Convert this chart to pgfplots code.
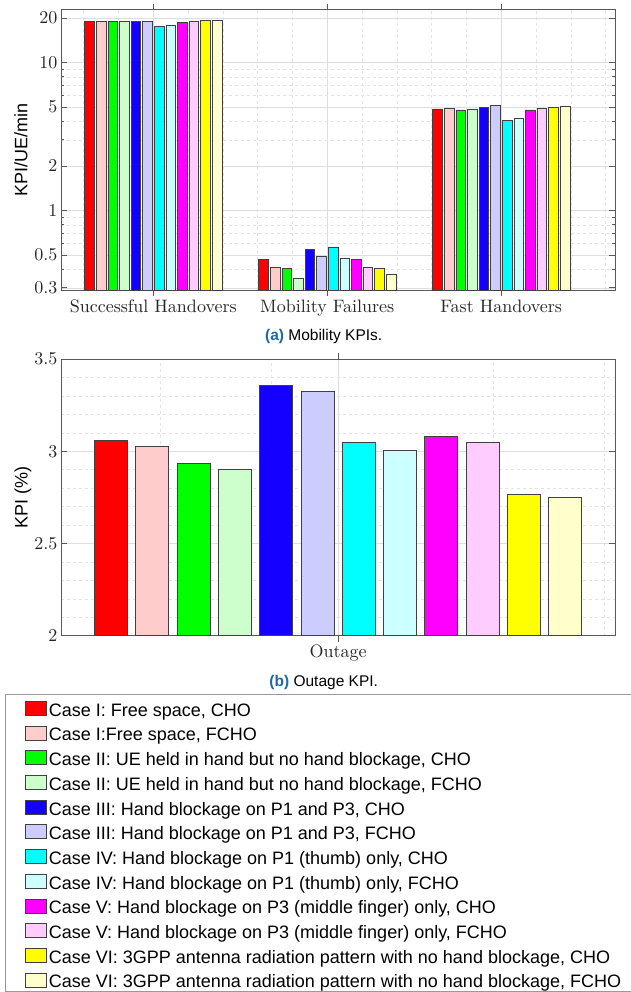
\documentclass[border=0pt]{standalone}
\usepackage{fontspec}
\usepackage{pgfplots}
\usepackage{pgfplotstable}
\pgfplotsset{compat=1.18}
\newfontfamily\lsans{Liberation Sans}
\newfontfamily\lmten{lmroman10-regular}[Extension=.otf]
\definecolor{c1}{rgb}{1,0,0}
\definecolor{c2}{rgb}{1,0.8,0.8}
\definecolor{c3}{rgb}{0,1,0}
\definecolor{c4}{rgb}{0.8,1,0.8}
\definecolor{c5}{RGB}{20,0,255}
\definecolor{c6}{rgb}{0.8,0.8,1}
\definecolor{c7}{rgb}{0,1,1}
\definecolor{c8}{rgb}{0.8,1,1}
\definecolor{c9}{rgb}{1,0,1}
\definecolor{c10}{rgb}{1,0.8,1}
\definecolor{c11}{rgb}{1,1,0}
\definecolor{c12}{rgb}{1,1,0.8}
\definecolor{capblue}{RGB}{30,105,165}

\pgfplotstableread{
x  s1    s2    s3    s4    s5    s6    s7    s8    s9    s10   s11   s12
1  18.9  19.06 18.9  19.0  18.9  19.0  17.56 17.7  18.7  18.9  19.2  19.3
2  0.468 0.415 0.404 0.348 0.543 0.488 0.567 0.473 0.468 0.415 0.409 0.372
3  4.85  4.93  4.78  4.83  4.98  5.11  4.04  4.20  4.78  4.87  4.95  5.03
}\topdata

\pgfplotsset{
  mystyle/.style={
    scale only axis,
    axis line style={black!65, line width=0.9pt},
    tick style={black!65, line width=0.8pt},
    tick align=inside,
    major tick length=6pt,
    minor tick length=3pt,
    grid=both,
    major grid style={black!13, line width=0.5pt},
    minor grid style={black!11, dashed, line width=0.5pt},
    minor x tick style={draw=none},
    /pgf/number format/assume math mode=true,
    xticklabel style={font=\lmten\fontsize{18}{21}\selectfont, text=black!85},
    yticklabel style={font=\lmten\fontsize{18}{21}\selectfont, text=black!85},
  },
  mybar/.style={fill=#1, draw=black!75, line width=0.6pt,
    legend image code/.code={\draw[##1, line width=0.6pt] (0pt,-4pt) rectangle (21pt,10pt);}},
}

\begin{document}
\begin{tikzpicture}
\useasboundingbox (0,0) rectangle (631pt,-992pt);

% ---------- top: mobility KPIs ----------
\begin{axis}[mystyle,
  at={(61pt,-9.5pt)}, anchor=north west,
  width=554pt, height=280.5pt,
  ymode=log, log origin=infty,
  ymin=0.29, ymax=22.8,
  xmin=0.47, xmax=3.654,
  ytick={0.3,0.5,1,2,5,10,20},
  yticklabels={0.3,0.5,1,2,5,10,20},
  minor ytick={0.4,0.6,0.7,0.8,0.9,3,4,6,7,8,9},
  xtick={1,2,3},
  xticklabels={Successful Handovers, Mobility Failures, Fast Handovers},
  minor xtick={0.6,0.8,1.2,1.4,1.6,1.8,2.2,2.4,2.6,2.8,3.2,3.4,3.6},
  ybar=2pt, bar width=9.6pt,
  ylabel={KPI/UE/min},
  ylabel style={font=\lsans\fontsize{18}{21}\selectfont, at={(axis description cs:-0.0722,0.5)}, anchor=center},
]
\addplot[mybar=c1]  table[x=x,y=s1]  {\topdata};
\addplot[mybar=c2]  table[x=x,y=s2]  {\topdata};
\addplot[mybar=c3]  table[x=x,y=s3]  {\topdata};
\addplot[mybar=c4]  table[x=x,y=s4]  {\topdata};
\addplot[mybar=c5]  table[x=x,y=s5]  {\topdata};
\addplot[mybar=c6]  table[x=x,y=s6]  {\topdata};
\addplot[mybar=c7]  table[x=x,y=s7]  {\topdata};
\addplot[mybar=c8]  table[x=x,y=s8]  {\topdata};
\addplot[mybar=c9]  table[x=x,y=s9]  {\topdata};
\addplot[mybar=c10] table[x=x,y=s10] {\topdata};
\addplot[mybar=c11] table[x=x,y=s11] {\topdata};
\addplot[mybar=c12] table[x=x,y=s12] {\topdata};
\end{axis}

\node[font=\lsans\fontsize{15.5}{18}\selectfont] at (323.7pt,-336pt) {\textcolor{capblue}{\textbf{(a)}} Mobility KPIs.};

% ---------- bottom: outage KPI ----------
\begin{axis}[mystyle,
  at={(61pt,-359pt)}, anchor=north west,
  width=554pt, height=276.7pt,
  ymin=2, ymax=3.5,
  ytick={2,2.5,3,3.5},
  minor ytick={2.1,2.2,2.3,2.4,2.6,2.7,2.8,2.9,3.1,3.2,3.3,3.4},
  minor y tick style={draw=none},
  xmin=0, xmax=2,
  xtick={1}, xticklabels={Outage},
  minor xtick={0.36,0.76,1.56,1.96},
  ybar=8.3pt, bar width=33pt,
  ylabel={KPI (\%)},
  ylabel style={font=\lsans\fontsize{18}{21}\selectfont, at={(axis description cs:-0.0686,0.5)}, anchor=center},
  legend cell align=left,
  legend style={at={(-0.06498,-0.2349)}, anchor=north west, draw=none, fill=none,
    inner sep=0pt, row sep=4.4pt, /tikz/column sep=2pt,
    font=\lsans\fontsize{18}{21}\selectfont,
    nodes={inner sep=0pt, text height=15pt, text depth=5pt}},
]
\addplot[mybar=c1]  coordinates {(1,3.057)};
\addplot[mybar=c2]  coordinates {(1,3.027)};
\addplot[mybar=c3]  coordinates {(1,2.933)};
\addplot[mybar=c4]  coordinates {(1,2.904)};
\addplot[mybar=c5]  coordinates {(1,3.355)};
\addplot[mybar=c6]  coordinates {(1,3.323)};
\addplot[mybar=c7]  coordinates {(1,3.047)};
\addplot[mybar=c8]  coordinates {(1,3.004)};
\addplot[mybar=c9]  coordinates {(1,3.082)};
\addplot[mybar=c10] coordinates {(1,3.047)};
\addplot[mybar=c11] coordinates {(1,2.768)};
\addplot[mybar=c12] coordinates {(1,2.750)};
\legend{{Case I: Free space, CHO},
  {Case I:Free space, FCHO},
  {Case II: UE held in hand but no hand blockage, CHO},
  {Case II: UE held in hand but no hand blockage, FCHO},
  {Case III: Hand blockage on P1 and P3, CHO},
  {Case III: Hand blockage on P1 and P3, FCHO},
  {Case IV: Hand blockage on P1 (thumb) only, CHO},
  {Case IV: Hand blockage on P1 (thumb) only, FCHO},
  {Case V: Hand blockage on P3 (middle finger) only, CHO},
  {Case V: Hand blockage on P3 (middle finger) only, FCHO},
  {Case VI: 3GPP antenna radiation pattern with no hand blockage, CHO},
  {Case VI: 3GPP antenna radiation pattern with no hand blockage, FCHO}}
\end{axis}

\node[font=\lsans\fontsize{15.5}{18}\selectfont] at (323.7pt,-682pt) {\textcolor{capblue}{\textbf{(b)}} Outage KPI.};

\draw[black!40, line width=0.8pt] (631pt,-694.5pt) -- (5pt,-694.5pt) -- (5pt,-991.5pt) -- (631pt,-991.5pt);
\end{tikzpicture}
\end{document}
